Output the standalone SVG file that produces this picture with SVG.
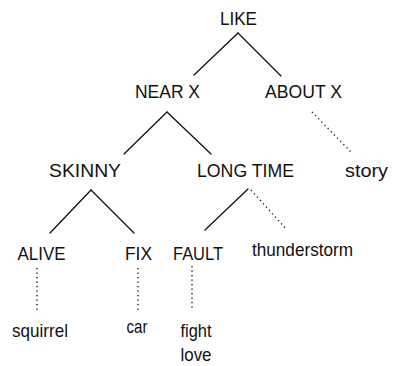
<svg xmlns="http://www.w3.org/2000/svg" width="394" height="366" viewBox="0 0 394 366">
  <style>
    .lbl { font-family: "Liberation Sans", Arial, sans-serif; font-size: 19px; fill: #111; }
    .solid { stroke: #111; stroke-width: 1.3; fill: none; stroke-linecap: round; }
    .dot { stroke: #111; stroke-width: 1.4; fill: none; stroke-dasharray: 1.2 3.3; stroke-linecap: butt; }
  </style>
  <rect width="394" height="366" fill="#fff"/>

  <!-- connectors: solid = structural links, dotted = instance links -->
  <g id="connectors">
    <line class="solid" x1="238" y1="33" x2="194" y2="75"/>
    <line class="solid" x1="238" y1="33" x2="281" y2="76"/>
    <line class="solid" x1="167" y1="112" x2="124" y2="154"/>
    <line class="solid" x1="167" y1="112" x2="211" y2="154"/>
    <line class="dot" x1="312" y1="112" x2="351" y2="152"/>
    <line class="solid" x1="91" y1="190" x2="50" y2="233"/>
    <line class="solid" x1="91" y1="190" x2="134" y2="233"/>
    <line class="solid" x1="248" y1="189" x2="205" y2="230"/>
    <line class="dot" x1="251" y1="190" x2="287" y2="230"/>
    <line class="dot" x1="37" y1="268" x2="37" y2="313"/>
    <line class="dot" x1="138" y1="268" x2="138" y2="313"/>
    <line class="dot" x1="192" y1="266" x2="192" y2="310"/>
  </g>

  <g id="like"><text class="lbl" x="238.5" y="25" text-anchor="middle" textLength="37" lengthAdjust="spacingAndGlyphs">LIKE</text></g>
  <g id="near-x"><text class="lbl" x="167.5" y="98" text-anchor="middle" textLength="65" lengthAdjust="spacingAndGlyphs">NEAR X</text></g>
  <g id="about-x"><text class="lbl" x="303.5" y="98" text-anchor="middle" textLength="77" lengthAdjust="spacingAndGlyphs">ABOUT X</text></g>
  <g id="skinny"><text class="lbl" x="85" y="177" text-anchor="middle" textLength="72" lengthAdjust="spacingAndGlyphs">SKINNY</text></g>
  <g id="long-time"><text class="lbl" x="245.5" y="177" text-anchor="middle" textLength="97" lengthAdjust="spacingAndGlyphs">LONG TIME</text></g>
  <g id="story"><text class="lbl" x="366.5" y="177" text-anchor="middle" textLength="43" lengthAdjust="spacingAndGlyphs">story</text></g>
  <g id="alive"><text class="lbl" x="41.5" y="260" text-anchor="middle" textLength="48" lengthAdjust="spacingAndGlyphs">ALIVE</text></g>
  <g id="fix"><text class="lbl" x="138.5" y="260" text-anchor="middle" textLength="27" lengthAdjust="spacingAndGlyphs">FIX</text></g>
  <g id="fault"><text class="lbl" x="198" y="260" text-anchor="middle" textLength="50" lengthAdjust="spacingAndGlyphs">FAULT</text></g>
  <g id="thunderstorm"><text class="lbl" x="302.5" y="256" text-anchor="middle" textLength="101" lengthAdjust="spacingAndGlyphs">thunderstorm</text></g>
  <g id="squirrel"><text class="lbl" x="40" y="337" text-anchor="middle" textLength="56" lengthAdjust="spacingAndGlyphs">squirrel</text></g>
  <g id="car"><text class="lbl" x="137" y="333" text-anchor="middle" textLength="21" lengthAdjust="spacingAndGlyphs">car</text></g>
  <g id="fight-love">
    <text class="lbl" x="180.5" y="337" textLength="31" lengthAdjust="spacingAndGlyphs">fight</text>
    <text class="lbl" x="180.5" y="361" textLength="31" lengthAdjust="spacingAndGlyphs">love</text>
  </g>
</svg>
